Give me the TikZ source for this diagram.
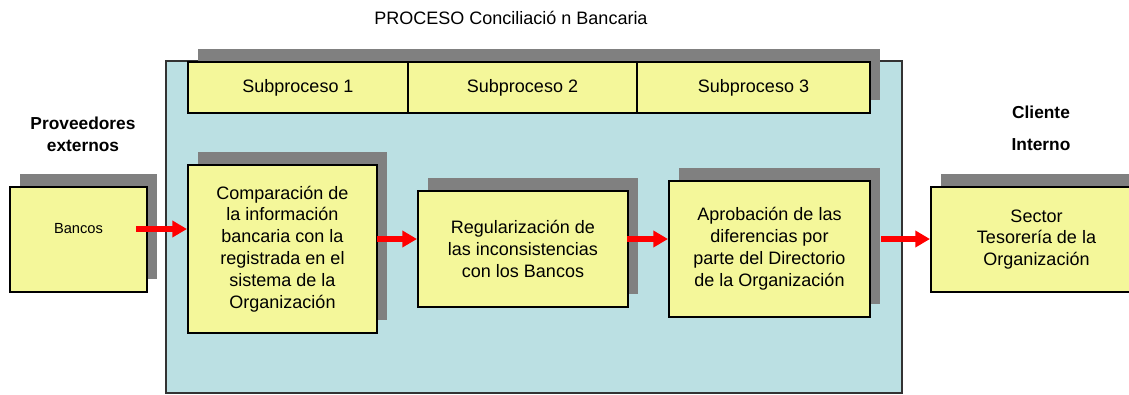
\documentclass[tikz,border=0pt]{standalone}
\usepackage{fontspec}
\setmainfont{Liberation Sans}
\usetikzlibrary{shadows,arrows.meta}
\definecolor{boxyellow}{HTML}{F4F79A}
\definecolor{procblue}{HTML}{BBE0E3}
\definecolor{shadegray}{HTML}{808080}
\definecolor{arrowred}{HTML}{FF0000}
\begin{document}
\begin{tikzpicture}[x=0.75pt,y=-0.75pt,
  wh/.style 2 args={minimum width=#1*0.75pt, minimum height=#2*0.75pt},
  box/.style={draw=black, line width=1.5pt, fill=boxyellow, inner sep=0pt,
    align=center, font=\fontsize{13.5}{16.4}\selectfont,
    drop shadow={shadow xshift=7.5pt, shadow yshift=9.75pt, fill=shadegray, opacity=1}},
  procbox/.style={draw=black!80, line width=1pt, fill=procblue, inner sep=0pt},
  headtxt/.style={font=\fontsize{13}{16.4}\selectfont\bfseries, align=center, inner sep=0pt},
  flow/.style={draw=arrowred, line width=4pt, -{Triangle[length=11pt,width=12pt]}}
]
\useasboundingbox (0,0) rectangle (1129,394);

% container
\node[procbox, wh={736}{332}] (proc) at (534,227) {};

% subprocess bar
\node[box, wh={220}{51}] (sub1) at (298,87.5) {Subproceso 1};
\node[box, wh={229}{51}] (sub2) at (522.5,87.5) {Subproceso 2};
\node[box, wh={233}{51}] (sub3) at (753.5,87.5) {Subproceso 3};

% boxes
\node[box, wh={137}{105}] (bancos) at (78.5,239.5) {};
\node[font=\fontsize{11}{13}\selectfont, inner sep=0pt] (bancostxt) at (78.5,229) {Bancos};
\node[box, wh={189}{168}] (comp) at (282.5,249) {Comparación de\\la información\\bancaria con la\\registrada en el\\sistema de la\\Organización};
\node[box, wh={210}{116}] (reg) at (523,249) {Regularización de\\las inconsistencias\\con los Bancos};
\node[box, wh={201}{136}] (apr) at (769.5,249) {Aprobación de las\\diferencias por\\parte del Directorio\\de la Organización};
\node[box, wh={211}{105}] (sector) at (1036.5,239.5) {Sector\\Tesorería de la\\Organización};

% texts
\node[font=\fontsize{13.5}{16}\selectfont, inner sep=0pt] (title) at (511,18) {PROCESO Conciliació n Bancaria};
\node[headtxt, font=\fontsize{13}{16.4}\selectfont\bfseries] (prov) at (83,134) {Proveedores\\externos};
\node[headtxt, font=\fontsize{13}{24}\selectfont\bfseries] (cli) at (1041,128) {Cliente\\Interno};

% arrows
\coordinate (a1) at (136,229);
\coordinate (a2) at (377,239);
\coordinate (a3) at (627,239);
\coordinate (a4) at (881,239);
\draw[flow] (a1) -- (a1 -| comp.west);
\draw[flow] (a2) -- (a2 -| reg.west);
\draw[flow] (a3) -- (a3 -| apr.west);
\draw[flow] (a4) -- (a4 -| sector.west);
\end{tikzpicture}
\end{document}
